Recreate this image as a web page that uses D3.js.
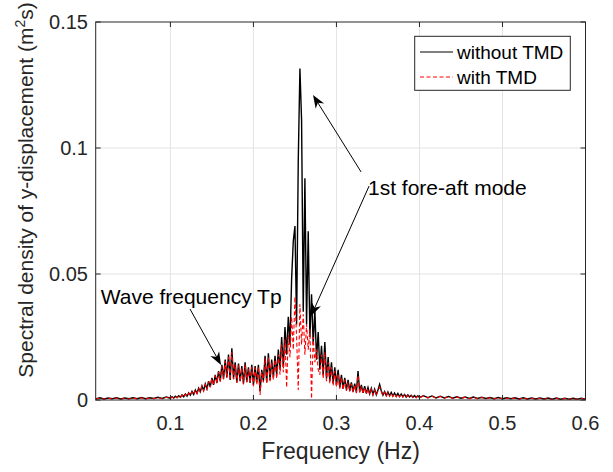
<!DOCTYPE html>
<html lang="en">
<head>
    <meta charset="UTF-8">
    <title>Spectral density of y-displacement</title>
    <script src="https://d3js.org/d3.v7.min.js"></script>
    <style>
        body { margin: 0; background: #fff; }
        text { font-family: "Liberation Sans", Arial, Helvetica, sans-serif; }
        .grid line { stroke: #e3e3e3; stroke-width: 1; }
        .frame { fill: none; stroke: #262626; stroke-width: 1; }
        .tick-mark { stroke: #262626; stroke-width: 1; }
        .tick-label { fill: #262626; font-size: 20px; }
        .axis-label { fill: #262626; }
        .note { fill: #000; font-size: 21px; }
    </style>
</head>
<body>
<svg id="chart" width="613" height="472"></svg>
<script>
// frequency grids (Hz): coarse tails, fine middle band
const lowStart = 0.010, lowStep = 0.005;
const midStart = 0.100, midStep = 0.002;
const highStart = 0.400, highStep = 0.005;

// without TMD, 0.010 .. 0.095
const noTmdLow = [0.0004, 0.0009, 0.0004, 0.0008, 0.0005, 0.0009, 0.0004, 0.0008, 0.0005,
    0.0009, 0.0005, 0.0010, 0.0005, 0.0009, 0.0006, 0.0011, 0.0006, 0.0012];
// without TMD, 0.100 .. 0.398
const noTmdMid = [
    0.0007, 0.0013, 0.0008, 0.0015, 0.0010, 0.0017, 0.0011, 0.0020, 0.0013, 0.0024,
    0.0015, 0.0028, 0.0019, 0.0034, 0.0022, 0.0040, 0.0027, 0.0047, 0.0033, 0.0056,
    0.0038, 0.0064, 0.0045, 0.0075, 0.0052, 0.0088, 0.0060, 0.0100, 0.0068, 0.0115,
    0.0075, 0.0140, 0.0085, 0.0160, 0.0090, 0.0180, 0.0080, 0.0205, 0.0085, 0.0150,
    0.0070, 0.0145, 0.0075, 0.0135, 0.0065, 0.0150, 0.0072, 0.0130, 0.0068, 0.0140,
    0.0060, 0.0135, 0.0070, 0.0140, 0.0035, 0.0120, 0.0075, 0.0175, 0.0070, 0.0185,
    0.0080, 0.0160, 0.0090, 0.0175, 0.0100, 0.0200, 0.0120, 0.0250, 0.0130, 0.0290,
    0.0180, 0.0330, 0.0220, 0.0480, 0.0630, 0.0690, 0.0300, 0.0950, 0.1315, 0.1110,
    0.0350, 0.0880, 0.0300, 0.0670, 0.0250, 0.0420, 0.0220, 0.0360, 0.0160, 0.0270,
    0.0120, 0.0215, 0.0100, 0.0230, 0.0085, 0.0170, 0.0075, 0.0150, 0.0065, 0.0130,
    0.0060, 0.0120, 0.0050, 0.0100, 0.0045, 0.0088, 0.0040, 0.0080, 0.0037, 0.0070,
    0.0033, 0.0065, 0.0030, 0.0115, 0.0032, 0.0060, 0.0028, 0.0055, 0.0026, 0.0050,
    0.0024, 0.0046, 0.0022, 0.0043, 0.0021, 0.0040, 0.0062, 0.0037, 0.0019, 0.0034,
    0.0018, 0.0032, 0.0017, 0.0030, 0.0016, 0.0028, 0.0015, 0.0026, 0.0014, 0.0024,
    0.0013, 0.0022, 0.0012, 0.0020, 0.0012, 0.0019, 0.0011, 0.0018, 0.0010, 0.0017];
// without TMD, 0.400 .. 0.600
const noTmdHigh = [0.0010, 0.0017, 0.0009, 0.0016, 0.0008, 0.0015, 0.0008, 0.0014, 0.0007, 0.0013,
    0.0007, 0.0012, 0.0006, 0.0012, 0.0006, 0.0011, 0.0006, 0.0010, 0.0005, 0.0010,
    0.0005, 0.0009, 0.0005, 0.0009, 0.0004, 0.0009, 0.0004, 0.0008, 0.0004, 0.0008,
    0.0004, 0.0008, 0.0003, 0.0008, 0.0003, 0.0007, 0.0003, 0.0007, 0.0003, 0.0007, 0.0003];

// with TMD
const tmdLow = [0.0003, 0.0008, 0.0003, 0.0007, 0.0004, 0.0008, 0.0003, 0.0007, 0.0004,
    0.0008, 0.0004, 0.0009, 0.0004, 0.0008, 0.0005, 0.0010, 0.0005, 0.0011];
const tmdMid = [
    0.0006, 0.0012, 0.0007, 0.0014, 0.0009, 0.0016, 0.0010, 0.0019, 0.0012, 0.0023,
    0.0014, 0.0027, 0.0018, 0.0033, 0.0021, 0.0039, 0.0026, 0.0046, 0.0032, 0.0055,
    0.0036, 0.0062, 0.0043, 0.0073, 0.0050, 0.0086, 0.0058, 0.0098, 0.0066, 0.0112,
    0.0072, 0.0135, 0.0082, 0.0155, 0.0087, 0.0170, 0.0078, 0.0190, 0.0082, 0.0140,
    0.0068, 0.0138, 0.0072, 0.0128, 0.0062, 0.0142, 0.0070, 0.0124, 0.0065, 0.0132,
    0.0055, 0.0128, 0.0060, 0.0132, 0.0020, 0.0112, 0.0070, 0.0165, 0.0065, 0.0170,
    0.0070, 0.0150, 0.0080, 0.0160, 0.0085, 0.0180, 0.0100, 0.0220, 0.0110, 0.0240,
    0.0050, 0.0260, 0.0170, 0.0330, 0.0200, 0.0410, 0.0250, 0.0040, 0.0380, 0.0220,
    0.0340, 0.0180, 0.0300, 0.0200, 0.0280, 0.0005, 0.0250, 0.0150, 0.0200, 0.0120,
    0.0100, 0.0180, 0.0085, 0.0190, 0.0075, 0.0150, 0.0065, 0.0130, 0.0058, 0.0115,
    0.0052, 0.0105, 0.0045, 0.0090, 0.0040, 0.0080, 0.0036, 0.0072, 0.0033, 0.0064,
    0.0030, 0.0060, 0.0027, 0.0098, 0.0029, 0.0054, 0.0025, 0.0050, 0.0023, 0.0045,
    0.0022, 0.0042, 0.0020, 0.0039, 0.0019, 0.0036, 0.0052, 0.0034, 0.0017, 0.0031,
    0.0016, 0.0029, 0.0015, 0.0027, 0.0014, 0.0025, 0.0013, 0.0023, 0.0012, 0.0022,
    0.0012, 0.0020, 0.0011, 0.0018, 0.0011, 0.0017, 0.0010, 0.0016, 0.0009, 0.0015];
const tmdHigh = [0.0009, 0.0016, 0.0008, 0.0015, 0.0007, 0.0014, 0.0007, 0.0013, 0.0006, 0.0012,
    0.0006, 0.0011, 0.0005, 0.0011, 0.0005, 0.0010, 0.0005, 0.0009, 0.0004, 0.0009,
    0.0004, 0.0008, 0.0004, 0.0008, 0.0003, 0.0008, 0.0003, 0.0007, 0.0003, 0.0007,
    0.0003, 0.0007, 0.0002, 0.0007, 0.0002, 0.0006, 0.0002, 0.0006, 0.0002, 0.0006, 0.0002];

const xTicks = [0.1, 0.2, 0.3, 0.4, 0.5, 0.6];
const xTickLabels = ["0.1", "0.2", "0.3", "0.4", "0.5", "0.6"];
const yTicks = [0, 0.05, 0.1, 0.15];
const yTickLabels = ["0", "0.05", "0.1", "0.15"];
const seriesNames = ["without TMD", "with TMD"];

// build (f, value) pairs for each series
function grid(arr, start, step) {
    return arr.map((v, i) => [start + i * step, v]);
}
const noTmd = [].concat(grid(noTmdLow, lowStart, lowStep), grid(noTmdMid, midStart, midStep), grid(noTmdHigh, highStart, highStep));
const withTmd = [].concat(grid(tmdLow, lowStart, lowStep), grid(tmdMid, midStart, midStep), grid(tmdHigh, highStart, highStep));

const pLeft = 95.7, pRight = 585.5, pTop = 22, pBottom = 400;

const x = d3.scaleLinear().domain([0.01, 0.6]).range([pLeft, pRight]);
const y = d3.scaleLinear().domain([0, 0.15]).range([pBottom, pTop]);

const svg = d3.select("#chart");
svg.append("rect").attr("width", 613).attr("height", 472).attr("fill", "#fff");

svg.append("defs").append("clipPath").attr("id", "plot")
    .append("rect").attr("x", pLeft).attr("y", pTop).attr("width", pRight - pLeft).attr("height", pBottom - pTop);

// grid lines
const g = svg.append("g").attr("class", "grid");
g.selectAll(".gx").data(xTicks.slice(0, -1)).enter().append("line")
    .attr("x1", d => x(d)).attr("x2", d => x(d)).attr("y1", pTop).attr("y2", pBottom);
g.selectAll(".gy").data(yTicks.slice(1, -1)).enter().append("line")
    .attr("x1", pLeft).attr("x2", pRight).attr("y1", d => y(d)).attr("y2", d => y(d));

// spectra
const line = d3.line().x(d => x(d[0])).y(d => y(d[1]));
const plot = svg.append("g").attr("clip-path", "url(#plot)");
plot.append("path").datum(noTmd).attr("d", line)
    .attr("fill", "none").attr("stroke", "#000").attr("stroke-width", 1.4)
    .attr("stroke-linejoin", "miter");
plot.append("path").datum(withTmd).attr("d", line)
    .attr("fill", "none").attr("stroke", "#ff0000").attr("stroke-width", 1.1)
    .attr("stroke-dasharray", "4,2.5");

// frame and inward ticks
svg.append("rect").attr("class", "frame")
    .attr("x", pLeft).attr("y", pTop).attr("width", pRight - pLeft).attr("height", pBottom - pTop);
const tk = 5;
xTicks.forEach(t => {
    svg.append("line").attr("class", "tick-mark").attr("x1", x(t)).attr("x2", x(t)).attr("y1", pBottom).attr("y2", pBottom - tk);
    svg.append("line").attr("class", "tick-mark").attr("x1", x(t)).attr("x2", x(t)).attr("y1", pTop).attr("y2", pTop + tk);
});
yTicks.forEach(t => {
    svg.append("line").attr("class", "tick-mark").attr("x1", pLeft).attr("x2", pLeft + tk).attr("y1", y(t)).attr("y2", y(t));
    svg.append("line").attr("class", "tick-mark").attr("x1", pRight).attr("x2", pRight - tk).attr("y1", y(t)).attr("y2", y(t));
});

// tick labels
svg.selectAll(".xl").data(xTicks).enter().append("text")
    .attr("class", "tick-label").attr("x", d => x(d)).attr("y", 430)
    .attr("text-anchor", "middle").text((d, i) => xTickLabels[i]);
svg.selectAll(".yl").data(yTicks).enter().append("text")
    .attr("class", "tick-label").attr("x", 88).attr("y", d => y(d) + 7)
    .attr("text-anchor", "end").text((d, i) => yTickLabels[i]);

// axis labels
svg.append("text").attr("class", "axis-label").attr("x", (pLeft + pRight) / 2).attr("y", 459)
    .attr("text-anchor", "middle").style("font-size", "23px").text("Frequency (Hz)");
const yl = svg.append("text").attr("class", "axis-label")
    .attr("transform", "translate(33,190) rotate(-90)")
    .attr("text-anchor", "middle").style("font-size", "21px");
yl.append("tspan").text("Spectral density of y-displacement (m");
yl.append("tspan").attr("dy", -8).style("font-size", "14px").text("2");
yl.append("tspan").attr("dy", 8).text("s)");

// legend
const lg = svg.append("g");
lg.append("rect").attr("x", 414.7).attr("y", 36.3).attr("width", 155.6).attr("height", 54)
    .attr("fill", "#fff").attr("stroke", "#262626").attr("stroke-width", 1);
[52, 77].forEach((ly, i) => {
    lg.append("line").attr("x1", 420).attr("x2", 453).attr("y1", ly).attr("y2", ly)
        .attr("stroke", i ? "#ff0000" : "#000").attr("stroke-width", 1)
        .attr("stroke-dasharray", i ? "4,2.5" : null);
    lg.append("text").attr("x", 457).attr("y", ly + 7).style("font-size", "19px")
        .attr("fill", "#000").text(seriesNames[i]);
});

// annotations (in data units)
function arrow(f0, v0, f1, v1) {
    const x0 = x(f0), y0 = y(v0), x1 = x(f1), y1 = y(v1);
    const a = Math.atan2(y1 - y0, x1 - x0);
    const L = 13, W = 5, n = 9;
    const bx = x1 - L * Math.cos(a), by = y1 - L * Math.sin(a);
    const nx = x1 - n * Math.cos(a), ny = y1 - n * Math.sin(a);
    const px = -Math.sin(a), py = Math.cos(a);
    svg.append("line").attr("x1", x0).attr("y1", y0).attr("x2", nx).attr("y2", ny)
        .attr("stroke", "#000").attr("stroke-width", 1);
    svg.append("path")
        .attr("d", `M${x1},${y1}L${bx + W * px},${by + W * py}L${nx},${ny}L${bx - W * px},${by - W * py}Z`)
        .attr("fill", "#000");
}
arrow(0.3297, 0.0905, 0.2718, 0.121);
arrow(0.3393, 0.0849, 0.2694, 0.0333);
arrow(0.1236, 0.0361, 0.161, 0.0139);

svg.append("text").attr("class", "note").attr("x", x(0.338)).attr("y", y(0.0813)).text("1st fore-aft mode");
svg.append("text").attr("class", "note").attr("x", x(0.016)).attr("y", y(0.0381)).text("Wave frequency Tp");
</script>
</body>
</html>
